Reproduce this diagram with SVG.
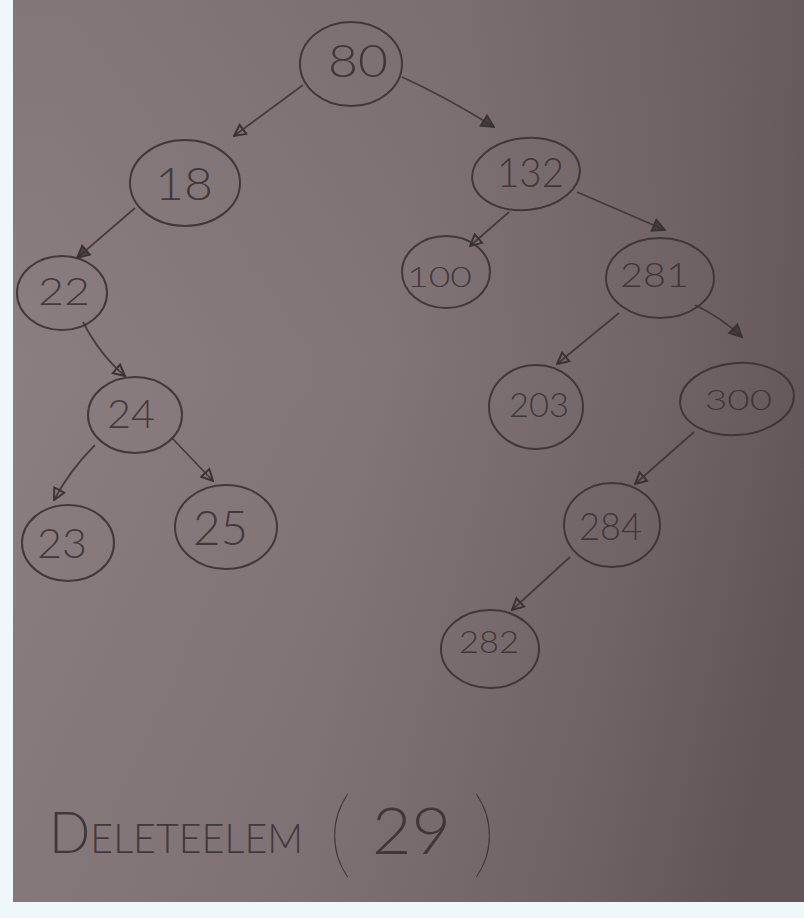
<svg xmlns="http://www.w3.org/2000/svg" width="804" height="918" viewBox="0 0 804 918">
  <defs>
    <linearGradient id="paper" x1="0" y1="0.4" x2="1" y2="0.6">
      <stop offset="0" stop-color="#8b7e81"/>
      <stop offset="0.45" stop-color="#827578"/>
      <stop offset="0.8" stop-color="#716466"/>
      <stop offset="1" stop-color="#635658"/>
    </linearGradient>
    <linearGradient id="shade" x1="0" y1="0" x2="0" y2="1">
      <stop offset="0" stop-color="#4a3e40" stop-opacity="0.12"/>
      <stop offset="0.4" stop-color="#4a3e40" stop-opacity="0"/>
      <stop offset="1" stop-color="#4a3e40" stop-opacity="0.06"/>
    </linearGradient>
    <marker id="open" viewBox="0 0 10 10" refX="9" refY="5" markerWidth="14" markerHeight="14" markerUnits="userSpaceOnUse" orient="auto">
      <path d="M1,1 L9,5 L1,9 z" fill="none" stroke="#3b3234" stroke-width="1.4"/>
    </marker>
    <marker id="filled" viewBox="0 0 10 10" refX="9" refY="5" markerWidth="15" markerHeight="15" markerUnits="userSpaceOnUse" orient="auto">
      <path d="M1,1 L9,5 L1,9 z" fill="#3b3234" fill-opacity="0.8" stroke="#3b3234" stroke-width="1.2"/>
    </marker>
  </defs>
  <style>
    .node ellipse { fill: none; stroke: #3b3234; stroke-width: 2; stroke-opacity: 0.9; }
    .node text { font-family: "Lato", "Open Sans", "Liberation Sans", sans-serif; font-weight: 300; fill: #3a3133; fill-opacity: 0.9; }
    .edge { fill: none; stroke: #3b3234; stroke-width: 1.8; stroke-opacity: 0.85; }
    .note { font-family: "Lato", "Open Sans", "Liberation Sans", sans-serif; font-weight: 300; fill: #3a3133; fill-opacity: 0.9; }
  </style>

  <rect x="0" y="0" width="804" height="918" fill="#eff7fb"/>
  <rect x="13" y="0" width="791" height="902" fill="url(#paper)"/>
  <rect x="13" y="0" width="791" height="902" fill="url(#shade)"/>

  <g id="connectors">
    <path class="edge" d="M303,85 L234,136" marker-end="url(#open)"/>
    <path class="edge" d="M402,77 Q446,97 494,127" marker-end="url(#filled)"/>
    <path class="edge" d="M135,208 L77,258" marker-end="url(#filled)"/>
    <path class="edge" d="M83,322 Q100,355 125,376" marker-end="url(#open)"/>
    <path class="edge" d="M95,445 Q70,470 54,500" marker-end="url(#open)"/>
    <path class="edge" d="M172,438 L213,481" marker-end="url(#open)"/>
    <path class="edge" d="M509,212 L470,246" marker-end="url(#open)"/>
    <path class="edge" d="M577,192 L665,230" marker-end="url(#filled)"/>
    <path class="edge" d="M619,313 L557,364" marker-end="url(#open)"/>
    <path class="edge" d="M695,305 Q722,318 742,337" marker-end="url(#filled)"/>
    <path class="edge" d="M694,432 L635,484" marker-end="url(#open)"/>
    <path class="edge" d="M570,557 L512,610" marker-end="url(#open)"/>
  </g>

  <g id="n80" class="node">
    <ellipse cx="351" cy="64" rx="51" ry="42"/>
    <text x="328" y="77" font-size="45" textLength="60" lengthAdjust="spacingAndGlyphs">80</text>
  </g>
  <g id="n18" class="node">
    <ellipse cx="185" cy="183" rx="55" ry="43"/>
    <text x="155" y="200" font-size="46" textLength="58" lengthAdjust="spacingAndGlyphs">18</text>
  </g>
  <g id="n132" class="node">
    <ellipse cx="526" cy="174" rx="54" ry="36" transform="rotate(-6 526 174)"/>
    <text x="497" y="187" font-size="42" textLength="67" lengthAdjust="spacingAndGlyphs">132</text>
  </g>
  <g id="n22" class="node">
    <ellipse cx="62" cy="293" rx="45" ry="37"/>
    <text x="38" y="305" font-size="38" textLength="52" lengthAdjust="spacingAndGlyphs">22</text>
  </g>
  <g id="n100" class="node">
    <ellipse cx="446" cy="272" rx="44" ry="36"/>
    <text x="407" y="287" font-size="28" textLength="65" lengthAdjust="spacingAndGlyphs">100</text>
  </g>
  <g id="n281" class="node">
    <ellipse cx="660" cy="278" rx="54" ry="40"/>
    <text x="620" y="287" font-size="34" textLength="69" lengthAdjust="spacingAndGlyphs">281</text>
  </g>
  <g id="n24" class="node">
    <ellipse cx="135" cy="415" rx="47" ry="38"/>
    <text x="107" y="428" font-size="40" textLength="48" lengthAdjust="spacingAndGlyphs">24</text>
  </g>
  <g id="n203" class="node">
    <ellipse cx="536" cy="407" rx="47" ry="42"/>
    <text x="509" y="417" font-size="34" textLength="60" lengthAdjust="spacingAndGlyphs">203</text>
  </g>
  <g id="n300" class="node">
    <ellipse cx="737" cy="399" rx="57" ry="36" transform="rotate(-5 737 399)"/>
    <text x="705" y="410" font-size="28" textLength="67" lengthAdjust="spacingAndGlyphs">300</text>
  </g>
  <g id="n23" class="node">
    <ellipse cx="68" cy="543" rx="46" ry="38"/>
    <text x="37" y="558" font-size="42" textLength="50" lengthAdjust="spacingAndGlyphs">23</text>
  </g>
  <g id="n25" class="node">
    <ellipse cx="226" cy="527" rx="51" ry="42"/>
    <text x="193" y="545" font-size="48" textLength="55" lengthAdjust="spacingAndGlyphs">25</text>
  </g>
  <g id="n284" class="node">
    <ellipse cx="612" cy="525" rx="48" ry="42"/>
    <text x="579" y="540" font-size="38" textLength="63" lengthAdjust="spacingAndGlyphs">284</text>
  </g>
  <g id="n282" class="node">
    <ellipse cx="490" cy="649" rx="49" ry="39"/>
    <text x="459" y="653" font-size="32" textLength="60" lengthAdjust="spacingAndGlyphs">282</text>
  </g>

  <g id="caption">
    <text class="note" x="49" y="853" font-size="42" textLength="254" lengthAdjust="spacingAndGlyphs"><tspan font-size="58">D</tspan>ELETEELEM</text>
    <text class="note" y="866"><tspan x="328" font-size="96" font-weight="100">(</tspan><tspan x="372" y="854" font-size="66" textLength="79" lengthAdjust="spacingAndGlyphs">29</tspan><tspan x="472" y="866" font-size="96" font-weight="100">)</tspan></text>
  </g>
</svg>
